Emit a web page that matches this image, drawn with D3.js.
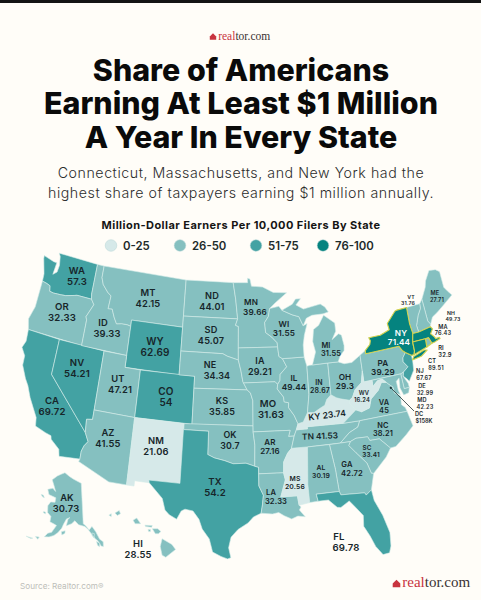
<!DOCTYPE html>
<html>
<head>
<meta charset="utf-8">
<script src="https://cdn.jsdelivr.net/npm/d3@7"></script>
<style>
  html, body { margin: 0; padding: 0; background: #fffdf8; }
  text { font-family: Inter, "Open Sans", sans-serif; }
</style>
</head>
<body>
<div id="map"></div>
<script>
const width = 481;
const height = 600;

const stateCodes = ["WA","OR","CA","NV","ID","MT","WY","UT","CO","AZ","NM","ND","SD","NE","KS","OK","TX","MN","IA","MO","AR","LA","MS","TN","KY","IL","IN","OH","WI","MI","PA","NY","NJ","DE","MD","VA","WV","NC","SC","GA","AL","FL","ME","NH","VT","MA","RI","CT","AK","HI"];
const stateValues = [57.3,32.33,69.72,54.21,39.33,42.15,62.69,47.21,54,41.55,21.06,44.01,45.07,34.34,35.85,30.7,54.2,39.66,29.21,31.63,27.16,32.33,20.56,41.53,23.74,49.44,28.67,29.3,31.55,31.55,39.29,71.44,67.67,32.99,42.23,45,16.24,38.21,33.41,42.72,30.19,69.78,27.71,49.73,31.76,76.43,32.9,89.51,30.73,28.55];
const legendLabels = ["0-25","26-50","51-75","76-100"];
const legendColors = ["#d6e9e9","#85c0c0","#43a2a3","#05837f"];
const highlighted = ["NY","MA","CT","RI"];
const titleLines = ["Share of Americans","Earning At Least $1 Million","A Year In Every State"];
const subtitleLines = ["Connecticut, Massachusetts, and New York had the","highest share of taxpayers earning $1 million annually."];

// outlines in lon/lat, simplified by hand
const shapes = {
  WA:[[[-122.75,49],[-117.03,49],[-117.04,46.42],[-116.92,46],[-118.98,46],[-119.3,45.93],[-120.5,45.7],[-121.2,45.65],[-122.2,45.6],[-122.75,45.65],[-122.9,46.1],[-123.4,46.2],[-124.05,46.27],[-124.1,46.9],[-124.7,48.15],[-124.72,48.38],[-123.2,48.15],[-122.75,48.15],[-122.9,47.1],[-122.4,47.4],[-122.3,48],[-122.5,48.75]]],
  OR:[[[-124.05,46.27],[-123.4,46.2],[-122.9,46.1],[-122.75,45.65],[-122.2,45.6],[-121.2,45.65],[-120.5,45.7],[-119.3,45.93],[-118.98,46],[-116.92,46],[-116.46,45.6],[-116.85,45],[-117.2,44.45],[-117.03,44.2],[-117.03,42],[-124.2,42],[-124.55,42.85],[-124.1,44]]],
  CA:[[[-124.2,42],[-120,42],[-120,39],[-114.63,35],[-114.13,34.3],[-114.5,33.9],[-114.72,33.4],[-114.72,32.72],[-117.12,32.53],[-117.3,33.1],[-118.4,33.75],[-118.5,34.03],[-119.2,34.15],[-120.5,34.45],[-120.65,35.15],[-121.9,36.6],[-122.5,37.5],[-123,38],[-123.75,39],[-123.8,39.8],[-124.4,40.4],[-124.1,41]]],
  NV:[[[-120,42],[-114.04,42],[-114.04,36.2],[-114.75,36.1],[-114.63,35],[-120,39]]],
  ID:[[[-117.03,49],[-116.05,49],[-116.05,48],[-115.7,47.45],[-114.9,46.9],[-114.35,46.65],[-114.45,45.55],[-113.9,45.6],[-113.45,44.95],[-113,44.45],[-112.3,44.55],[-111.5,44.55],[-111.05,44.48],[-111.05,42],[-117.03,42],[-117.03,44.2],[-117.2,44.45],[-116.85,45],[-116.46,45.6],[-116.92,46],[-117.04,46.42]]],
  MT:[[[-116.05,49],[-104.05,49],[-104.05,45],[-111.05,45],[-111.05,44.48],[-111.5,44.55],[-112.3,44.55],[-113,44.45],[-113.45,44.95],[-113.9,45.6],[-114.45,45.55],[-114.35,46.65],[-114.9,46.9],[-115.7,47.45],[-116.05,48]]],
  WY:[[[-111.05,45],[-104.05,45],[-104.05,41],[-111.05,41]]],
  UT:[[[-114.04,42],[-111.05,42],[-111.05,41],[-109.05,41],[-109.05,37],[-114.04,37]]],
  CO:[[[-109.05,41],[-102.05,41],[-102.05,37],[-109.05,37]]],
  AZ:[[[-114.04,37],[-109.05,37],[-109.05,31.33],[-111.07,31.33],[-114.81,32.5],[-114.72,32.72],[-114.72,33.4],[-114.5,33.9],[-114.13,34.3],[-114.63,35],[-114.75,36.1],[-114.04,36.2]]],
  NM:[[[-109.05,37],[-103,37],[-103.04,32],[-106.6,32],[-106.53,31.78],[-108.2,31.78],[-108.2,31.33],[-109.05,31.33]]],
  ND:[[[-104.05,49],[-97.23,49],[-96.85,47.6],[-96.56,45.94],[-104.05,45.94]]],
  SD:[[[-104.05,45.94],[-96.56,45.94],[-96.85,45.4],[-96.45,45.3],[-96.45,43.5],[-96.44,42.49],[-97.9,42.8],[-98.5,43],[-104.05,43]]],
  NE:[[[-104.05,43],[-98.5,43],[-97.9,42.8],[-96.44,42.49],[-96.1,41.6],[-95.85,40.7],[-95.31,40],[-102.05,40],[-102.05,41],[-104.05,41]]],
  KS:[[[-102.05,40],[-95.31,40],[-94.9,39.75],[-94.61,39.1],[-94.62,37],[-102.05,37]]],
  OK:[[[-103,37],[-94.62,37],[-94.62,36.5],[-94.43,35.4],[-94.48,33.64],[-95.5,33.9],[-97,33.85],[-98,34.1],[-99.2,34.3],[-100,34.56],[-100,36.5],[-103,36.5]]],
  TX:[[[-103.04,36.5],[-100,36.5],[-100,34.56],[-99.2,34.3],[-98,34.1],[-97,33.85],[-95.5,33.9],[-94.48,33.64],[-94.04,33.55],[-94.04,31.99],[-93.55,31.2],[-93.7,30.3],[-93.85,29.7],[-94.7,29.4],[-95.3,28.9],[-96.4,28.35],[-97.15,27.7],[-97.4,26.8],[-97.15,25.96],[-97.5,25.85],[-98.2,26.05],[-99.1,26.4],[-99.5,27.5],[-100.3,28.3],[-100.7,29.1],[-101.4,29.77],[-102.3,29.88],[-102.7,29.7],[-103.15,28.98],[-104,29.3],[-104.5,29.65],[-104.9,30.6],[-106.53,31.78],[-106.6,32],[-103.04,32]]],
  MN:[[[-97.23,49],[-95.15,49],[-95.15,49.38],[-94.8,49.3],[-94.6,48.7],[-93,48.6],[-91.5,48.1],[-89.6,48],[-91.3,47.2],[-92.1,46.75],[-92.3,46.1],[-92.85,45.6],[-92.75,44.75],[-91.95,44.35],[-91.25,43.85],[-91.22,43.5],[-96.45,43.5],[-96.45,45.3],[-96.85,45.4],[-96.56,45.94],[-96.85,47.6]]],
  IA:[[[-96.45,43.5],[-91.22,43.5],[-91.1,42.7],[-90.65,42.5],[-90.15,41.8],[-91.05,41.2],[-91.1,40.7],[-91.42,40.38],[-91.73,40.61],[-95.77,40.58],[-95.85,40.7],[-96.1,41.6],[-96.44,42.49]]],
  MO:[[[-95.77,40.58],[-91.73,40.61],[-91.42,40.38],[-91.5,40],[-90.75,39.3],[-90.7,38.9],[-90.15,38.8],[-90.2,38.4],[-89.55,37.7],[-89.15,36.99],[-89.4,36.5],[-89.7,36],[-90.37,36],[-90.15,36.5],[-94.62,36.5],[-94.62,37],[-94.61,39.1],[-94.9,39.75],[-95.31,40]]],
  AR:[[[-94.62,36.5],[-90.15,36.5],[-90.37,36],[-89.7,36],[-90.1,35],[-90.6,34.6],[-91.1,33.9],[-91.17,33],[-94.04,33],[-94.04,33.55],[-94.48,33.64],[-94.43,35.4]]],
  LA:[[[-94.04,33],[-91.17,33],[-91,32.4],[-91.6,31],[-89.73,31],[-89.6,30.2],[-89.4,30.05],[-89.6,29.8],[-89,29.2],[-89.8,29.3],[-90.5,29.1],[-91.3,29.4],[-91.9,29.7],[-92.6,29.6],[-93.85,29.7],[-93.7,30.3],[-93.55,31.2],[-94.04,31.99]]],
  MS:[[[-90.1,35],[-88.2,35],[-88.47,31.9],[-88.4,30.35],[-89.6,30.2],[-89.73,31],[-91.6,31],[-91,32.4],[-91.17,33],[-91.1,33.9],[-90.6,34.6]]],
  TN:[[[-89.4,36.5],[-88.05,36.5],[-88.07,36.68],[-83.68,36.6],[-81.68,36.59],[-82,36.1],[-83.1,35.75],[-84.3,35],[-88.2,35],[-90.1,35],[-89.7,36]]],
  KY:[[[-89.4,36.5],[-89.15,36.99],[-88.5,37.1],[-87.9,37.85],[-87.1,37.8],[-86.3,38.1],[-85.7,38.3],[-85.4,38.75],[-84.82,39.1],[-84.2,38.8],[-83.7,38.65],[-82.6,38.42],[-82.6,38.1],[-81.97,37.54],[-83.68,36.6],[-88.07,36.68],[-88.05,36.5]]],
  IL:[[[-87.53,41.7],[-87.8,42.49],[-90.65,42.5],[-90.15,41.8],[-91.05,41.2],[-91.1,40.7],[-91.42,40.38],[-91.5,40],[-90.75,39.3],[-90.7,38.9],[-90.15,38.8],[-90.2,38.4],[-89.55,37.7],[-89.15,36.99],[-88.5,37.1],[-87.9,37.85],[-87.55,39.35]]],
  IN:[[[-87.53,41.7],[-87.2,41.75],[-84.8,41.76],[-84.82,39.1],[-85.4,38.75],[-85.7,38.3],[-86.3,38.1],[-87.1,37.8],[-87.9,37.85],[-87.55,39.35]]],
  OH:[[[-84.8,41.76],[-83.45,41.73],[-82.7,41.5],[-81.7,41.5],[-80.52,41.98],[-80.52,40.64],[-80.85,39.7],[-81.75,39.2],[-82.2,38.6],[-82.6,38.42],[-83.7,38.65],[-84.2,38.8],[-84.82,39.1]]],
  WI:[[[-92.1,46.75],[-90.8,46.9],[-90.4,46.55],[-89,46.1],[-88.1,45.9],[-87.6,45.1],[-87.05,45.25],[-87.55,44.3],[-87.8,43.5],[-87.8,42.49],[-90.65,42.5],[-91.1,42.7],[-91.22,43.5],[-91.25,43.85],[-91.95,44.35],[-92.75,44.75],[-92.85,45.6],[-92.3,46.1]]],
  MI:[[[-86.8,41.76],[-84.8,41.76],[-83.45,41.73],[-83.1,42.2],[-82.5,42.6],[-82.42,43],[-82.6,43.9],[-82.95,44.05],[-83.9,43.65],[-83.3,44.3],[-83.3,45],[-84.7,45.78],[-85.5,45],[-86.25,44.7],[-86.5,43.7],[-86.25,42.8]],
      [[-90.4,46.55],[-88.9,47],[-88.4,47.4],[-87.7,47.4],[-88.4,46.9],[-87.4,46.5],[-85,46.75],[-84.4,46.45],[-84,46],[-84.75,45.9],[-86.3,45.9],[-87.1,45.7],[-87.6,45.1],[-88.1,45.9],[-89,46.1]]],
  PA:[[[-80.52,41.98],[-79.76,42.27],[-79.76,42],[-75.35,42],[-75.05,41.6],[-74.7,41.36],[-75.13,40.98],[-75.2,40.65],[-74.72,40.15],[-75.42,39.8],[-75.79,39.72],[-80.52,39.72],[-80.52,40.64]]],
  NY:[[[-79.76,42.27],[-79.05,42.7],[-78.9,43],[-79.05,43.27],[-77.5,43.27],[-76.2,43.55],[-76.3,44.1],[-75,44.95],[-74.7,45],[-73.35,45],[-73.4,43.6],[-73.25,42.75],[-73.5,42.05],[-73.5,41.3],[-73.65,41],[-74,41],[-74.7,41.36],[-75.05,41.6],[-75.35,42],[-79.76,42]],
      [[-74,40.6],[-73.75,40.85],[-72.3,41.15],[-71.9,41.07],[-72.8,40.7]]],
  NJ:[[[-75.13,40.98],[-74.7,41.36],[-74,41],[-74,40.45],[-74.1,39.75],[-74.9,38.95],[-75.15,39.2],[-75.55,39.5],[-75.42,39.8],[-74.72,40.15],[-75.2,40.65]]],
  DE:[[[-75.79,39.72],[-75.42,39.8],[-75.55,39.5],[-75.1,38.8],[-75.05,38.45],[-75.7,38.45]]],
  MD:[[[-79.48,39.72],[-75.79,39.72],[-75.7,38.45],[-75.05,38.45],[-75.25,38.03],[-75.9,37.95],[-76.2,38.6],[-76.1,39.4],[-76.5,39.2],[-76.45,38.4],[-76.3,38.05],[-77,38.3],[-77.05,38.8],[-77.5,39.1],[-77.75,39.3],[-78.2,39.65],[-78.8,39.6],[-79.48,39.2]]],
  VA:[[[-83.68,36.6],[-81.97,37.54],[-81.3,37.3],[-80.3,37.5],[-79.95,38.2],[-78.9,38.8],[-78.35,39.4],[-77.75,39.3],[-77.5,39.1],[-77.05,38.8],[-77,38.3],[-76.3,37.9],[-76.4,37.2],[-76,36.9],[-75.87,36.55],[-81.68,36.59]]],
  WV:[[[-82.6,38.42],[-82.2,38.6],[-81.75,39.2],[-80.85,39.7],[-80.52,40.64],[-80.52,39.72],[-79.48,39.72],[-79.48,39.2],[-78.8,39.6],[-78.2,39.65],[-77.75,39.3],[-78.35,39.4],[-78.9,38.8],[-79.95,38.2],[-80.3,37.5],[-81.3,37.3],[-81.97,37.54],[-82.6,38.1]]],
  NC:[[[-84.3,35],[-83.1,35.75],[-82,36.1],[-81.68,36.59],[-75.87,36.55],[-75.5,35.25],[-76.5,34.65],[-77.9,33.9],[-78.55,33.86],[-79.67,34.8],[-80.8,34.82],[-81,35.15],[-82.4,35.2],[-83.1,35]]],
  SC:[[[-83.1,35],[-82.4,35.2],[-81,35.15],[-80.8,34.82],[-79.67,34.8],[-78.55,33.86],[-79.2,33.2],[-80.9,32.05],[-81.15,32.1],[-81.5,33],[-82.6,34],[-83.35,34.7]]],
  GA:[[[-85.6,35],[-84.3,35],[-83.1,35],[-83.35,34.7],[-82.6,34],[-81.5,33],[-81.15,32.1],[-80.9,32.05],[-81.4,30.72],[-82.05,30.36],[-82.2,30.57],[-84.86,30.7],[-85,31],[-85.1,32],[-85.18,32.87]]],
  AL:[[[-88.2,35],[-85.6,35],[-85.18,32.87],[-85.1,32],[-85,31],[-87.6,31],[-87.45,30.4],[-88.4,30.35],[-88.47,31.9]]],
  FL:[[[-87.6,31],[-85,31],[-84.86,30.7],[-82.2,30.57],[-82.05,30.36],[-81.4,30.72],[-81.25,29.8],[-80.55,28.45],[-80.05,26.9],[-80.15,25.75],[-80.4,25.2],[-81.1,25.15],[-81.75,25.95],[-82.2,26.9],[-82.75,27.8],[-82.65,28.7],[-83.4,29.5],[-84,30.1],[-85,29.65],[-85.4,29.7],[-86.3,30.4],[-87.45,30.4]]],
  ME:[[[-71.08,45.3],[-70.25,46.2],[-70,46.7],[-69.2,47.45],[-68.3,47.35],[-67.8,47.07],[-67.8,45.7],[-67.45,45.3],[-67,44.85],[-68.5,44.25],[-69.5,43.85],[-70.25,43.6],[-70.7,43.07],[-70.98,43.4]]],
  NH:[[[-71.5,45],[-71.08,45.3],[-70.98,43.4],[-70.7,43.07],[-70.82,42.87],[-72.46,42.73],[-72.55,43.3],[-72.05,44.1],[-71.55,44.6]]],
  VT:[[[-73.35,45],[-71.5,45],[-71.55,44.6],[-72.05,44.1],[-72.55,43.3],[-72.46,42.73],[-73.25,42.75],[-73.4,43.6]]],
  MA:[[[-73.5,42.05],[-73.25,42.75],[-72.46,42.73],[-70.82,42.87],[-70.6,42.65],[-71,42.3],[-70.6,41.95],[-70.5,41.78],[-70,41.8],[-69.95,41.68],[-70.65,41.55],[-71.12,41.5],[-71.38,42.02],[-71.8,42.02]]],
  RI:[[[-71.8,42.02],[-71.38,42.02],[-71.12,41.5],[-71.85,41.32]]],
  CT:[[[-73.5,42.05],[-71.8,42.02],[-71.85,41.32],[-73.65,41],[-73.5,41.3]]],
  AK:[[[-141,69.65],[-141,60.3],[-139.5,59.9],[-137.5,58.9],[-135.5,59.7],[-133.5,58.4],[-131.8,56.6],[-130,55.9],[-130.3,54.8],[-131.5,55],[-133,56.3],[-134.5,56.9],[-136.5,58.1],[-138,59],[-140,59.7],[-144,60],[-146.5,60.8],[-148.5,60],[-151.8,59.2],[-151,60.8],[-149.8,61.3],[-152,60.8],[-153.5,59.5],[-154.5,58.3],[-156.5,57],[-158.5,56],[-161,55.2],[-163.5,54.7],[-162,55.9],[-160,56.5],[-157.8,58.5],[-159,58.6],[-162,58.7],[-162,60],[-164.5,60.5],[-165.3,62],[-164,63.2],[-161,63.6],[-161,64.7],[-166.3,64.6],[-168,65.6],[-164.5,66.5],[-162,66.1],[-163.8,67.1],[-166.5,68.3],[-163,69.8],[-160,70.6],[-156.6,71.35],[-152,70.8],[-148,70.4],[-144,70]],
      [[-154.5,57.5],[-152.3,58],[-152.3,57.4],[-154,56.8]],
      [[-167,60.2],[-165.7,60.3],[-165.7,59.9],[-167,59.9]],
      [[-171.5,63.5],[-170,63.7],[-168.8,63.3],[-170,63.2]],
      [[-168,53.6],[-166,54],[-166.5,53.3]],
      [[-172.5,52.3],[-169,52.9],[-170,52.5]],
      [[-136,58.2],[-134.5,58],[-135,57],[-136,57.6]],
      [[-133.8,56.2],[-132,55.7],[-132.5,54.9],[-133.5,55.3]]],
  HI:[[[-160.25,21.9],[-160.05,22],[-160.05,21.8]],
      [[-159.75,22.05],[-159.4,22.23],[-159.3,22],[-159.55,21.88]],
      [[-158.27,21.55],[-157.97,21.7],[-157.65,21.3],[-158.1,21.3]],
      [[-157.3,21.2],[-156.7,21.17],[-156.75,21.05],[-157.25,21.1]],
      [[-157.05,20.9],[-156.85,20.9],[-156.85,20.75],[-157,20.75]],
      [[-156.7,20.95],[-156.25,20.95],[-156,20.75],[-156.2,20.6],[-156.45,20.6]],
      [[-155.9,20.25],[-155.1,19.85],[-154.8,19.5],[-155.6,18.95],[-155.9,19.1],[-156.05,19.7]]]
};

// label layout: name x, value x, name y, value y, font size
const labelAt = {
  WA:[77,77,271,282,9.6],OR:[62,62,307,317.5,9.6],CA:[52,52,400.5,411.5,9.6],NV:[77,77,362.5,373.5,9.6],ID:[103,107,322.5,333.5,9.4],
  MT:[148,148,292.5,303.5,9.4],WY:[155,155,341,352,10],UT:[118,120,379,390,9.4],CO:[166,166,391,402,10],AZ:[108,108,433,444,9.4],
  NM:[156,156,441,452,9.4],ND:[212,212,295.5,306.5,9.2],SD:[211,211,329.5,340.5,9.2],NE:[210,217,364.5,375.5,9],KS:[222,222,400.5,411.5,9],
  OK:[230,230,434.5,445.5,8.8],TX:[215,215,482,493,9.6],MN:[251,255,302.5,312,8.2],IA:[260,260,361,371.5,9],MO:[268,271,403.5,414.5,9.6],
  AR:[270,270,442,451.5,8],LA:[271,276,492,501,7.6],MS:[295,295,479,487,6.8],IL:[294,294,378,387.5,8.2],IN:[319,320,382,390,7],
  OH:[345,345,377,386.5,8.2],WI:[284,284,324,333.5,8.2],MI:[326,331,345,353.5,7.4],PA:[383,383,363,372.5,8.2],NY:[401,399,333,342.5,8.2],
  NJ:[420,424,371,377.5,5.6],DE:[422,425,386,392.5,5.6],MD:[422,425,400,406.5,5.6],VA:[384,384,402,410.5,7.4],WV:[364,362,393,400,5.8],
  NC:[383,383,425,433.5,7.4],SC:[367,371,447.5,455,6.4],GA:[347,352,464,473,7.6],AL:[321,321,468,476,6.8],FL:[339,346,537,548,9.6],
  ME:[435,437,293,299.5,5.6],NH:[451,453,313,319,5.2],VT:[411,408,297,303,5.2],MA:[443,443,326.5,333,5.6],RI:[441,445,348,355,5.8],
  CT:[432,436,361,367.5,5.6],AK:[67,66,497.5,508.5,9.4],HI:[138,138,544,555,9.4]
};
// these two are set on one tilted line: x, y, rotation, font size
const oneLineAt = { KY:[327,415,-7,8.6], TN:[320,436,-2,8.4] };

const fill = d3.scaleThreshold()
    .domain([25.5, 50.5, 70]) // NY (71.44) is dark in the picture, FL (69.78) is not
    .range(legendColors);

// lower 48: albers at unit scale, then stretched onto the page by two linear scales
const albers = d3.geoAlbers().rotate([96,0]).center([0,37.5]).parallels([29.5,45.5]).scale(1).translate([0,0]);
const xMain = d3.scaleLinear().domain([0,1]).range([241.7,837.7]);
const yMain = d3.scaleLinear().domain([0,1]).range([420,1102]);

const akConic = d3.geoConicEqualArea().rotate([154,0]).center([0,60]).parallels([55,65]).scale(1).translate([0,0]);

const xHi = d3.scaleLinear().domain([-159.5,-155.5]).range([118,167]);
const yHi = d3.scaleLinear().domain([22.05,19.6]).range([513,548]);

function place(code, lonLat) {
    if (code === "AK") {
        const p = akConic(lonLat);
        return [63.15 + 177.3 * p[0] - 22.6 * p[1], 521.4 + 57.2 * p[0] + 242.3 * p[1]];
    }
    if (code === "HI") return [xHi(lonLat[0]), yHi(lonLat[1])];
    const p = albers(lonLat);
    return [xMain(p[0]), yMain(p[1])];
}

const ringLine = d3.line().curve(d3.curveLinearClosed);

const svg = d3.select("#map")
    .append("svg")
    .attr("width", width)
    .attr("height", height)
    .style("display", "block");

svg.append("rect").attr("width", width).attr("height", height).attr("fill", "#fffdf8");
svg.append("rect").attr("width", width).attr("height", 3).attr("fill", "#141414");

// logo
function logo(x, y, size, fontSize) {
    const g = svg.append("g").attr("transform", `translate(${x},${y})`);
    g.append("path")
        .attr("d", `M0 ${-size}L${size} 0V${size}H${-size}V0Z`)
        .attr("fill", "#c8343f");
    const t = g.append("text").attr("x", size + 2).attr("y", size)
        .style("font-family", "'Liberation Serif', serif")
        .attr("font-size", fontSize);
    t.append("tspan").attr("fill", "#c8343f").text("real");
    t.append("tspan").attr("fill", "#3a3233").text("tor.com");
}
logo(213, 36.5, 3.2, 11.5);
logo(396.5, 583.5, 3.8, 15);

svg.selectAll(".title")
    .data(titleLines)
    .enter()
    .append("text")
    .attr("class", "title")
    .attr("x", 241)
    .attr("y", (d, i) => 80.5 + i * 33.8)
    .attr("text-anchor", "middle")
    .attr("font-size", 30.4)
    .attr("font-weight", 800)
    .attr("fill", "#0a0a0a")
    .text(d => d);

svg.selectAll(".subtitle")
    .data(subtitleLines)
    .enter()
    .append("text")
    .attr("class", "subtitle")
    .attr("x", 241)
    .attr("y", (d, i) => 178 + i * 20)
    .attr("text-anchor", "middle")
    .attr("font-size", 14.2)
    .attr("font-weight", 300)
    .attr("letter-spacing", 0.55)
    .attr("fill", "#2c2c2c")
    .text(d => d);

svg.append("text")
    .attr("x", 241)
    .attr("y", 229)
    .attr("text-anchor", "middle")
    .attr("font-size", 11)
    .attr("font-weight", 700)
    .attr("letter-spacing", 0.45)
    .attr("fill", "#151515")
    .text("Million-Dollar Earners Per 10,000 Filers By State");

const legendX = [111, 180, 256, 323];
const legend = svg.selectAll(".legend")
    .data(legendLabels)
    .enter()
    .append("g")
    .attr("class", "legend")
    .attr("transform", (d, i) => `translate(${legendX[i]},245.5)`);
legend.append("circle")
    .attr("r", 5.8)
    .attr("fill", (d, i) => legendColors[i])
    .attr("stroke", "#b5d4d4")
    .attr("stroke-width", 0.5);
legend.append("text")
    .attr("x", 12)
    .attr("y", 4.3)
    .attr("font-size", 11.4)
    .attr("font-weight", 600)
    .attr("fill", "#1d2a2a")
    .text(d => d);

// states, the outlined ones last so their yellow edge stays on top
const rows = stateCodes.map((code, i) => ({code: code, value: stateValues[i]}));
rows.sort((a, b) => highlighted.includes(a.code) - highlighted.includes(b.code));

svg.selectAll(".state")
    .data(rows)
    .enter()
    .append("path")
    .attr("class", "state")
    .attr("d", d => shapes[d.code].map(ring => ringLine(ring.map(p => place(d.code, p)))).join(""))
    .attr("fill", d => fill(d.value))
    .attr("stroke", d => highlighted.includes(d.code) ? "#d3d24e" : "#d5ecea")
    .attr("stroke-width", d => highlighted.includes(d.code) ? 1.1 : 0.6)
    .attr("stroke-linejoin", "round");

// labels
const labelRows = rows.filter(d => labelAt[d.code]);
const labels = svg.selectAll(".label")
    .data(labelRows)
    .enter()
    .append("g")
    .attr("class", "label")
    .attr("text-anchor", "middle")
    .attr("font-weight", 600)
    .attr("letter-spacing", 0.15)
    .attr("fill", d => d.code === "NY" ? "#ffffff" : "#17262a")
    .attr("font-size", d => labelAt[d.code][4]);
labels.append("text")
    .attr("x", d => labelAt[d.code][0])
    .attr("y", d => labelAt[d.code][2])
    .attr("dy", "0.36em")
    .text(d => d.code);
labels.append("text")
    .attr("x", d => labelAt[d.code][1])
    .attr("y", d => labelAt[d.code][3])
    .attr("dy", "0.36em")
    .text(d => d.value);

svg.selectAll(".oneline")
    .data(rows.filter(d => oneLineAt[d.code]))
    .enter()
    .append("text")
    .attr("class", "oneline")
    .attr("text-anchor", "middle")
    .attr("dy", "0.36em")
    .attr("font-weight", 600)
    .attr("fill", "#17262a")
    .attr("font-size", d => oneLineAt[d.code][3])
    .attr("transform", d => `translate(${oneLineAt[d.code][0]},${oneLineAt[d.code][1]}) rotate(${oneLineAt[d.code][2]})`)
    .text(d => d.code + " " + d.value);

// DC sits outside the map with a leader line
const dcSpot = place("DC", [-77.03,38.9]);
svg.append("line")
    .attr("x1", dcSpot[0] - 2).attr("y1", dcSpot[1] + 2)
    .attr("x2", 414).attr("y2", 411)
    .attr("stroke", "#1f3133").attr("stroke-width", 0.8);
svg.append("circle").attr("cx", dcSpot[0] - 2).attr("cy", dcSpot[1] + 2).attr("r", 1.1).attr("fill", "#1f3133");
const dc = svg.append("g").attr("text-anchor", "middle").attr("font-size", 5.6).attr("font-weight", 600).attr("fill", "#17262a");
dc.append("text").attr("x", 419).attr("y", 414).attr("dy", "0.36em").text("DC");
dc.append("text").attr("x", 424).attr("y", 421).attr("dy", "0.36em").text("$158K");

svg.append("text")
    .attr("x", 20)
    .attr("y", 589)
    .attr("font-size", 8.2)
    .attr("fill", "#bdbdb8")
    .text("Source: Realtor.com®");
</script>
</body>
</html>
